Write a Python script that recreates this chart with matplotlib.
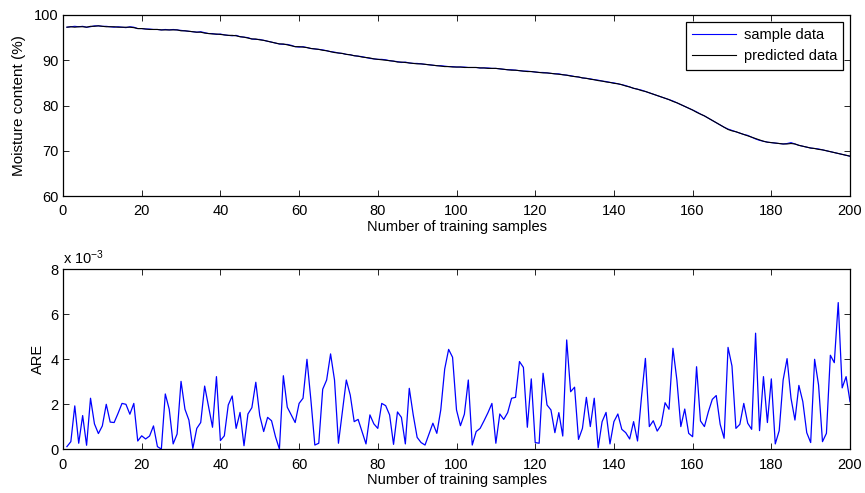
import numpy as np
import matplotlib
matplotlib.use("Agg")
import matplotlib.pyplot as plt

plt.rcParams["font.family"] = ["Liberation Sans", "DejaVu Sans"]
plt.rcParams["mathtext.default"] = "regular"

# sample index 1..200
samples = np.arange(1, 201)

# measured moisture content (%)
sample_data = [
    97.3, 97.4, 97.5, 97.4, 97.5, 97.3, 97.4, 97.6, 97.6, 97.5,
    97.5, 97.4, 97.3, 97.4, 97.3, 97.2, 97.4, 97.3, 97.0, 97.0,
    96.9, 96.9, 96.8, 96.8, 96.7, 96.8, 96.7, 96.8, 96.7, 96.6,
    96.5, 96.4, 96.3, 96.2, 96.3, 96.1, 95.9, 95.9, 95.7, 95.8,
    95.6, 95.5, 95.4, 95.5, 95.2, 95.1, 95.0, 94.7, 94.6, 94.6,
    94.4, 94.2, 94.0, 93.8, 93.6, 93.5, 93.5, 93.3, 93.0, 92.9,
    93.0, 92.8, 92.6, 92.5, 92.4, 92.3, 92.1, 91.9, 91.8, 91.6,
    91.5, 91.3, 91.2, 91.0, 90.9, 90.8, 90.6, 90.4, 90.3, 90.2,
    90.2, 90.1, 89.9, 89.8, 89.7, 89.5, 89.6, 89.4, 89.3, 89.3,
    89.2, 89.1, 89.0, 88.9, 88.8, 88.8, 88.7, 88.6, 88.6, 88.5,
    88.5, 88.5, 88.4, 88.4, 88.4, 88.3, 88.3, 88.3, 88.2, 88.2,
    88.1, 88.0, 87.9, 87.9, 87.8, 87.7, 87.6, 87.6, 87.5, 87.4,
    87.3, 87.3, 87.2, 87.1, 87.0, 87.0, 86.8, 86.7, 86.6, 86.4,
    86.3, 86.1, 86.0, 85.9, 85.7, 85.6, 85.4, 85.3, 85.1, 85.0,
    84.8, 84.6, 84.4, 84.1, 83.8, 83.6, 83.4, 83.1, 82.8, 82.5,
    82.2, 81.9, 81.6, 81.3, 81.0, 80.6, 80.2, 79.8, 79.4, 79.0,
    78.6, 78.1, 77.7, 77.2, 76.7, 76.2, 75.7, 75.2, 74.8, 74.5,
    74.2, 73.9, 73.6, 73.4, 73.0, 72.6, 72.3, 72.1, 71.9, 71.8,
    71.7, 71.6, 71.5, 71.6, 71.8, 71.5, 71.2, 71.0, 70.8, 70.6,
    70.5, 70.4, 70.2, 70.0, 69.8, 69.6, 69.4, 69.2, 69.0, 68.8,
]

# model output (%)
predicted_data = [
    97.3, 97.4, 97.3, 97.4, 97.4, 97.3, 97.5, 97.5, 97.6, 97.5,
    97.4, 97.4, 97.4, 97.3, 97.3, 97.3, 97.3, 97.2, 97.0, 97.0,
    96.9, 96.8, 96.8, 96.8, 96.7, 96.7, 96.7, 96.7, 96.7, 96.5,
    96.5, 96.4, 96.3, 96.2, 96.2, 96.0, 95.9, 95.8, 95.8, 95.7,
    95.6, 95.5, 95.5, 95.4, 95.2, 95.1, 94.9, 94.7, 94.7, 94.5,
    94.4, 94.2, 94.0, 93.8, 93.6, 93.6, 93.4, 93.2, 93.0, 93.0,
    92.9, 92.8, 92.6, 92.5, 92.4, 92.2, 92.1, 91.9, 91.7, 91.6,
    91.5, 91.3, 91.2, 91.0, 90.9, 90.7, 90.6, 90.5, 90.3, 90.2,
    90.1, 90.0, 89.9, 89.8, 89.6, 89.6, 89.5, 89.4, 89.3, 89.2,
    89.2, 89.1, 89.0, 88.9, 88.8, 88.7, 88.6, 88.6, 88.5, 88.5,
    88.5, 88.4, 88.4, 88.4, 88.4, 88.3, 88.3, 88.2, 88.2, 88.2,
    88.1, 88.0, 87.9, 87.8, 87.8, 87.7, 87.6, 87.5, 87.5, 87.4,
    87.3, 87.2, 87.2, 87.1, 87.0, 86.9, 86.8, 86.7, 86.5, 86.4,
    86.3, 86.1, 86.0, 85.8, 85.7, 85.5, 85.4, 85.2, 85.1, 84.9,
    84.8, 84.6, 84.3, 84.1, 83.8, 83.6, 83.3, 83.1, 82.8, 82.5,
    82.2, 81.9, 81.6, 81.3, 80.9, 80.6, 80.2, 79.8, 79.4, 79.0,
    78.5, 78.1, 77.7, 77.2, 76.7, 76.2, 75.7, 75.2, 74.7, 74.4,
    74.2, 73.9, 73.6, 73.3, 73.0, 72.7, 72.4, 72.1, 71.9, 71.8,
    71.7, 71.6, 71.5, 71.5, 71.6, 71.5, 71.2, 71.0, 70.8, 70.6,
    70.5, 70.3, 70.2, 70.0, 69.8, 69.6, 69.4, 69.2, 69.0, 68.8,
]

# absolute relative error, in units of 1e-3
are_e3 = [
    0.12, 0.34, 1.93, 0.27, 1.50, 0.18, 2.27, 1.13, 0.70, 1.04,
    2.00, 1.21, 1.19, 1.60, 2.04, 2.00, 1.56, 2.04, 0.37, 0.60,
    0.46, 0.59, 1.04, 0.12, 0.01, 2.46, 1.78, 0.24, 0.68, 3.02,
    1.78, 1.30, 0.04, 0.93, 1.19, 2.81, 1.90, 0.98, 3.23, 0.39,
    0.60, 1.97, 2.37, 0.93, 1.64, 0.16, 1.57, 1.85, 2.98, 1.50,
    0.79, 1.42, 1.27, 0.56, 0.01, 3.27, 1.87, 1.53, 1.19, 2.04,
    2.27, 4.00, 2.19, 0.19, 0.27, 2.67, 3.08, 4.24, 3.08, 0.27,
    1.67, 3.08, 2.41, 1.23, 1.33, 0.79, 0.24, 1.53, 1.13, 0.93,
    2.04, 1.94, 1.53, 0.22, 1.66, 1.42, 0.24, 2.71, 1.53, 0.53,
    0.30, 0.19, 0.68, 1.16, 0.71, 1.75, 3.57, 4.44, 4.09, 1.75,
    1.05, 1.56, 3.08, 0.19, 0.79, 0.93, 1.27, 1.63, 2.04, 0.27,
    1.57, 1.33, 1.63, 2.27, 2.31, 3.90, 3.64, 0.98, 3.13, 0.30,
    0.27, 3.38, 1.97, 1.75, 0.74, 1.63, 0.59, 4.86, 2.56, 2.76,
    0.44, 0.93, 2.31, 1.01, 2.27, 0.07, 1.23, 1.64, 0.24, 1.23,
    1.57, 0.89, 0.74, 0.46, 1.23, 0.37, 2.31, 4.04, 1.01, 1.27,
    0.81, 1.08, 2.07, 1.78, 4.49, 3.08, 1.01, 1.79, 0.71, 0.56,
    3.67, 1.26, 1.01, 1.67, 2.22, 2.39, 1.11, 0.49, 4.53, 3.70,
    0.93, 1.11, 2.04, 1.16, 0.89, 5.16, 0.83, 3.23, 1.19, 3.13,
    0.24, 0.83, 3.08, 4.03, 2.27, 1.30, 2.84, 2.12, 0.74, 0.30,
    4.00, 2.86, 0.34, 0.71, 4.18, 3.85, 6.52, 2.73, 3.23, 2.12,
]

x_ticks = np.arange(0, 201, 20)
fs = 10.5


def style_axis(ax):
    ax.tick_params(axis="both", direction="in", top=True, right=True,
                   length=4, width=0.6, labelsize=fs)
    ax.tick_params(axis="x", pad=6)
    ax.tick_params(axis="y", pad=3)
    for sp in ax.spines.values():
        sp.set_linewidth(0.9)
    ax.set_xlim(0, 200)
    ax.set_xticks(x_ticks)
    ax.set_xlabel("Number of training samples", fontsize=fs, labelpad=1)


fig = plt.figure(figsize=(8.65, 4.93), dpi=100)
ax1 = fig.add_axes([0.0728, 0.6024, 0.9099, 0.3672])
ax2 = fig.add_axes([0.0728, 0.0886, 0.9099, 0.3652])

# top: moisture content
ax1.plot(samples, sample_data, color="#0000ff", lw=0.8, label="sample data")
ax1.plot(samples, predicted_data, color="black", lw=0.8, label="predicted data")
ax1.set_ylim(60, 100)
ax1.set_yticks(np.arange(60, 101, 10))
ax1.set_ylabel("Moisture content (%)", fontsize=fs + 0.5, labelpad=6)
style_axis(ax1)
leg = ax1.legend(loc="upper right", fontsize=fs, handlelength=3.0,
                 fancybox=False, framealpha=1, edgecolor="black",
                 borderaxespad=0.45, borderpad=0.45, labelspacing=0.5,
                 handletextpad=0.5)
leg.get_frame().set_linewidth(0.9)

# bottom: ARE
ax2.plot(samples, are_e3, color="#0000ff", lw=0.9)
ax2.set_ylim(0, 8)
ax2.set_yticks(np.arange(0, 9, 2))
ax2.set_ylabel("ARE", fontsize=fs, labelpad=4)
style_axis(ax2)
ax2.text(0.0, 1.01, r"x 10$^{-3}$", transform=ax2.transAxes,
         fontsize=fs, ha="left", va="bottom")

fig.savefig("out.png", dpi=100)
